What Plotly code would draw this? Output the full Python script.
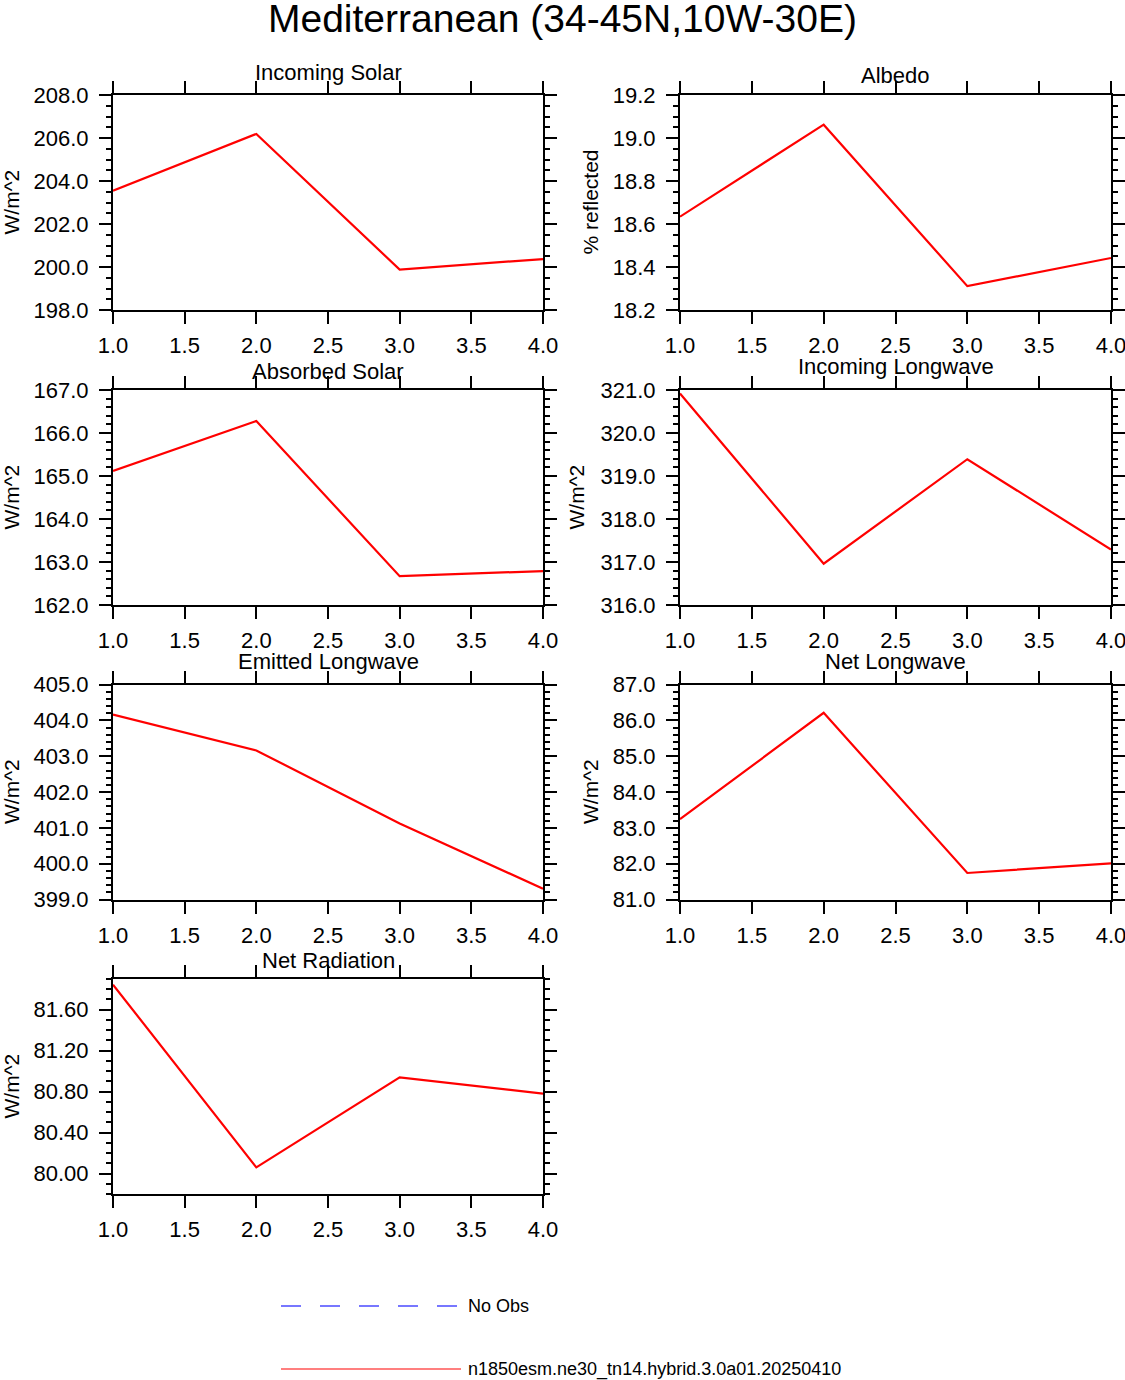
import plotly.graph_objects as go

W, H = 1125, 1380
FONT = "Liberation Sans"

# ---- data ----
years = [1.0, 2.0, 3.0, 4.0]
incoming_solar = [203.55, 206.19, 199.88, 200.37]
albedo = [18.634, 19.062, 18.311, 18.442]
absorbed_solar = [165.12, 166.28, 162.67, 162.79]
incoming_lw = [320.92, 316.96, 319.39, 317.29]
emitted_lw = [404.16, 403.16, 401.12, 399.30]
net_lw = [83.24, 86.21, 81.74, 82.01]
net_radiation = [81.845, 80.06, 80.94, 80.78]

panel_titles = ["Incoming Solar", "Albedo", "Absorbed Solar", "Incoming Longwave",
                "Emitted Longwave", "Net Longwave", "Net Radiation"]
y_titles = ["W/m^2", "% reflected", "W/m^2", "W/m^2", "W/m^2", "W/m^2", "W/m^2"]
series = [incoming_solar, albedo, absorbed_solar, incoming_lw, emitted_lw, net_lw, net_radiation]
y_ranges = [(198, 208), (18.2, 19.2), (162, 167), (316, 321), (399, 405), (81, 87), (79.8, 81.9)]
y_dticks = [2, 0.2, 1, 1, 1, 1, 0.4]
y_minor = [0.5, 0.05, 0.2, 0.2, 0.2, 0.2, 0.1]
y_fmt = [".1f", ".1f", ".1f", ".1f", ".1f", ".1f", ".2f"]
x_ticks = [1.0, 1.5, 2.0, 2.5, 3.0, 3.5, 4.0]
legend_labels = ["No Obs", "n1850esm.ne30_tn14.hybrid.3.0a01.20250410"]
main_title = "Mediterranean (34-45N,10W-30E)"

# ---- layout geometry (pixels) ----
cols = [(113, 543), (680, 1111)]
rows = [(95, 310), (390, 605), (684.5, 899.5), (979, 1194)]
title_y = [72, 76, 371, 366, 661, 661, 960]
ytitle_x = [11, 590, 11, 576, 11, 590, 11]

fig = go.Figure()
layout = dict(
    width=W, height=H, autosize=False,
    margin=dict(l=0, r=0, t=0, b=0, pad=0),
    paper_bgcolor="white", plot_bgcolor="white",
    showlegend=False,
    font=dict(family=FONT, color="black"),
)
annotations = []
shapes = []

for i, ys in enumerate(series):
    r, c = divmod(i, 2)
    x0, x1 = cols[c]
    top, bot = rows[r]
    n = "" if i == 0 else str(i + 1)
    xa = "x" + n
    ya = "y" + n
    fig.add_trace(go.Scatter(x=years, y=ys, mode="lines", xaxis=xa, yaxis=ya,
                             line=dict(color="#ff0000", width=2.2)))
    layout["xaxis" + n] = dict(
        domain=[x0 / W, x1 / W], anchor=ya, range=[1, 4], automargin=False,
        tickmode="array", tickvals=x_ticks, tickformat=".1f",
        ticks="outside", ticklen=12, tickwidth=2, tickcolor="black",
        showline=True, linecolor="black", linewidth=2, mirror="allticks",
        showgrid=False, zeroline=False, ticklabeloverflow="allow",
        tickfont=dict(size=22, family=FONT, color="black"),
        ticklabelstandoff=3,
    )
    layout["yaxis" + n] = dict(
        domain=[1 - bot / H, 1 - top / H], anchor=xa, automargin=False,
        range=list(y_ranges[i]), dtick=y_dticks[i], tick0=0, tickformat=y_fmt[i],
        ticks="outside", ticklen=12, tickwidth=2, tickcolor="black",
        showline=True, linecolor="black", linewidth=2, mirror="allticks",
        showgrid=False, zeroline=False, ticklabeloverflow="allow",
        tickfont=dict(size=22, family=FONT, color="black"),
        ticklabelstandoff=6,
        minor=dict(dtick=y_minor[i], tick0=0, ticks="outside", ticklen=5,
                   tickwidth=1.5, tickcolor="black", showgrid=False),
    )
    annotations.append(dict(text=panel_titles[i], x=(x0 + x1) / 2 / W, y=1 - title_y[i] / H,
                            xref="paper", yref="paper", xanchor="center", yanchor="middle",
                            showarrow=False, font=dict(size=22, family=FONT, color="black")))
    annotations.append(dict(text=y_titles[i], x=ytitle_x[i] / W, y=1 - (top + bot) / 2 / H,
                            xref="paper", yref="paper", xanchor="center", yanchor="middle",
                            textangle=-90, showarrow=False,
                            font=dict(size=21, family=FONT, color="black")))

annotations.append(dict(text=main_title, x=562 / W, y=1 - 18 / H, xref="paper", yref="paper",
                        xanchor="center", yanchor="middle", showarrow=False,
                        font=dict(size=39, family=FONT, color="black")))

# legend
leg_y = [1306, 1369]
leg_styles = [dict(color="#4b4bff", width=1.5, dash="20px,19px"),
              dict(color="#ff0000", width=1.2)]
for k, lab in enumerate(legend_labels):
    shapes.append(dict(type="line", xref="paper", yref="paper",
                       x0=281 / W, x1=461 / W, y0=1 - leg_y[k] / H, y1=1 - leg_y[k] / H,
                       line=leg_styles[k]))
    annotations.append(dict(text=lab, x=466 / W, y=1 - leg_y[k] / H, xref="paper", yref="paper",
                            xanchor="left", yanchor="middle", showarrow=False,
                            font=dict(size=18, family=FONT, color="black")))

layout["annotations"] = annotations
layout["shapes"] = shapes
fig.update_layout(**layout)
fig.write_html("out.html", config={"displayModeBar": False},
               post_script="document.body.style.margin='0px';document.body.style.overflow='hidden';")
